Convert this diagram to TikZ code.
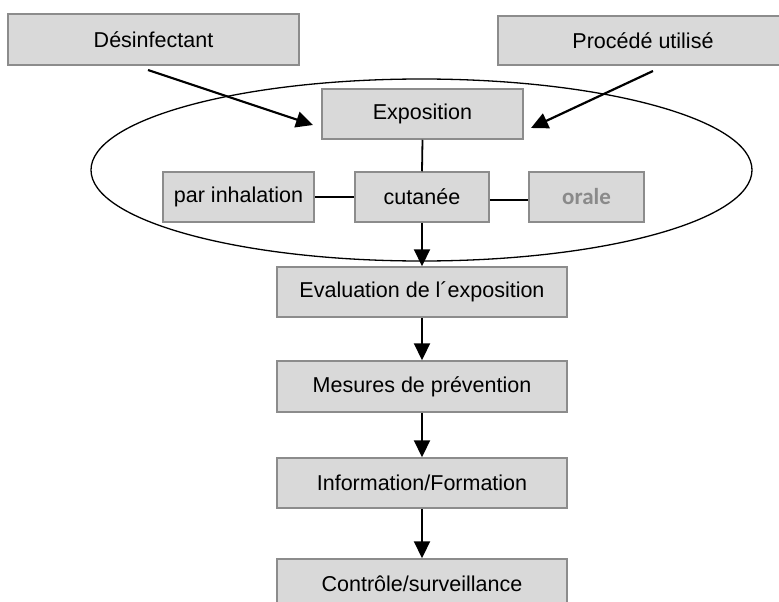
\documentclass[tikz,border=0pt]{standalone}
\usepackage{fontspec}
\setmainfont{Liberation Sans}
\newfontfamily\carlito{Carlito}
\usetikzlibrary{arrows.meta,calc}
\definecolor{boxfill}{HTML}{D9D9D9}
\definecolor{boxborder}{HTML}{8C8C8C}
\definecolor{oraletext}{HTML}{8A8A8A}
\begin{document}
\begin{tikzpicture}[x=1pt,y=-1pt,
  box/.style={draw=boxborder, fill=boxfill, line width=1.5pt, inner sep=0pt,
    minimum height=50pt, font=\fontsize{21.5}{25}\selectfont},
  link/.style={line width=1.8pt, draw=black},
  arr/.style={line width=2.2pt, draw=black, -{Triangle[length=17pt,width=16pt]}},
  ring/.style={line width=1.3pt, draw=black}]
\useasboundingbox (0,0) rectangle (779,602);
\clip (0,0) rectangle (779,602);

% ellipse
\draw[ring] (421.5,170) ellipse [x radius=330.5pt, y radius=91pt];

% boxes
\node[box, minimum width=291pt, minimum height=51pt] (des) at (153.5,39.5) {Désinfectant};
\node[box, minimum width=290pt, minimum height=49pt] (proc) at (643,40.5) {Procédé utilisé};
\node[box, minimum width=201pt] (expo) at (422.5,114) {Exposition};
\node[box, minimum width=151pt] (inh) at (238.5,197) {par inhalation};
\node[box, minimum width=134pt] (cut) at (422,197) {cutanée};
\node[box, minimum width=115pt, font=\carlito\bfseries\fontsize{23}{26}\selectfont, text=oraletext] (ora) at (586.5,197) {orale};
\node[box, minimum width=290pt] (eval) at (422,292) {Evaluation de l´exposition};
\node[box, minimum width=290pt, minimum height=51pt] (mes) at (422,386.5) {Mesures de prévention};
\node[box, minimum width=290pt] (info) at (422,483) {Information/Formation};
\node[box, minimum width=290pt] (ctrl) at (422,584) {Contrôle/surveillance};

% diagonal arrows
\coordinate (dstart) at (148,70);
\coordinate (dend) at (313,125);
\coordinate (pstart) at (653,71);
\coordinate (pend) at (531,128);
\draw[arr] (dstart) -- (dend);
\draw[arr] (pstart) -- (pend);

% links
\draw[link] (expo.south) -- (cut.north);
\draw[link] (inh.east) -- (cut.west);
\draw[link] ([yshift=-3pt]cut.east) -- ([yshift=-3pt]ora.west);

% vertical arrows
\draw[arr] (cut.south) -- (eval.north);
\draw[arr] (eval.south) -- (mes.north);
\draw[arr] (mes.south) -- (info.north);
\draw[arr] (info.south) -- (ctrl.north);
\end{tikzpicture}
\end{document}
